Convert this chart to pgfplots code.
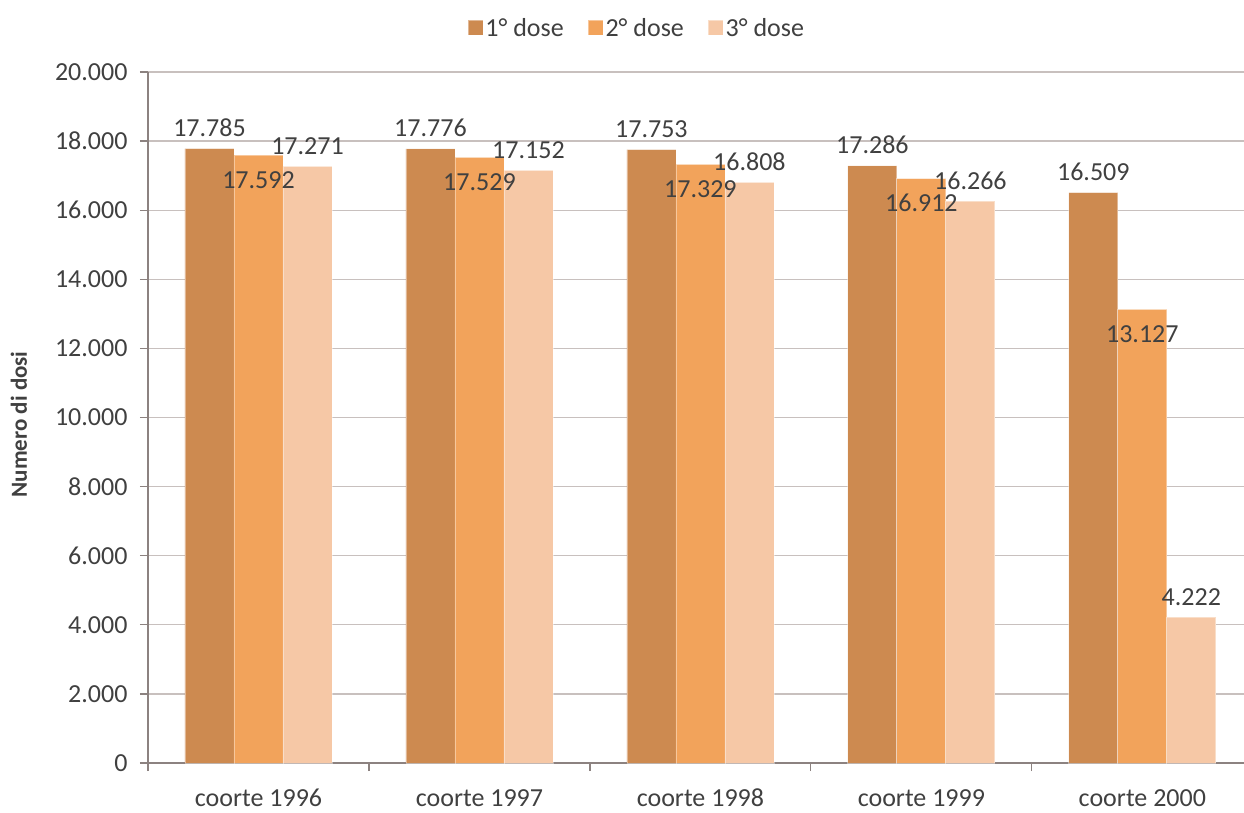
\documentclass[border=0pt]{standalone}
\usepackage{pgfplots}
\pgfplotsset{compat=1.18}
\usepackage{fontspec}
\setmainfont{Carlito}
\definecolor{cA}{RGB}{205,138,80}
\definecolor{cB}{RGB}{242,163,91}
\definecolor{cC}{RGB}{246,200,166}
\definecolor{txt}{RGB}{64,64,64}
\definecolor{axc}{RGB}{140,130,128}
\definecolor{grd}{RGB}{200,192,190}
\begin{document}
\begin{tikzpicture}[font=\fontsize{26}{31}\selectfont]
\begin{axis}[
  at={(148pt,49pt)}, anchor=south west,
  width=1096pt, height=691pt, scale only axis,
  xmin=-0.5, xmax=4.46, ymin=0, ymax=20000,
  ybar=0pt, bar width=49pt,
  axis x line*=bottom, axis y line*=left,
  axis line style={axc, line width=1.5pt, -},
  /pgf/number format/assume math mode=true,
  ytick={0,2000,...,20000},
  scaled y ticks=false,
  yticklabel={\pgfmathprintnumber[fixed,precision=0,1000 sep={.}]{\tick}},
  ymajorgrids, grid style={grd, line width=1.2pt},
  tick align=outside, major tick length=8pt, minor tick length=8pt,
  tick style={axc, line width=1.2pt},
  xtick={0,1,2,3,4},
  xticklabels={coorte 1996,coorte 1997,coorte 1998,coorte 1999,coorte 2000},
  every major x tick/.style={draw=none},
  minor xtick={-0.5,0.5,1.5,2.5,3.5},
  every minor x tick/.style={axc, line width=1.2pt},
  xticklabel style={text=txt, anchor=base, yshift=-35pt},
  yticklabel style={text=txt, xshift=-9pt},
  ylabel={\bfseries Numero di dosi},
  ylabel style={at={(axis description cs:-0.1177,0.49)}, anchor=center, font=\fontsize{23}{27}\selectfont, text=txt},
  legend style={at={(axis description cs:0.446,1.0637)}, anchor=center, draw=none, fill=none,
    text=txt, legend columns=-1,
    /tikz/every even column/.append style={column sep=22pt}},
  legend image code/.code={\fill[#1] (-3pt,-7.5pt) rectangle (12pt,7.5pt);},
  nodes near coords={\pgfmathprintnumber[fixed,precision=0,1000 sep={.}]{\pgfplotspointmeta}},
  every node near coord/.append style={text=txt, anchor=base},
]
\addplot[fill=cA, draw=white, draw opacity=0.4, line width=0.8pt,
  every node near coord/.append style={yshift=12pt}]
  coordinates {(0,17785) (1,17776) (2,17753) (3,17286) (4,16509)};
\addplot[fill=cB, draw=white, draw opacity=0.4, line width=0.8pt,
  every node near coord/.append style={yshift=-33pt}]
  coordinates {(0,17592) (1,17529) (2,17329) (3,16912) (4,13127)};
\addplot[fill=cC, draw=white, draw opacity=0.4, line width=0.8pt,
  every node near coord/.append style={yshift=12pt}]
  coordinates {(0,17271) (1,17152) (2,16808) (3,16266) (4,4222)};
\legend{1° dose, 2° dose, 3° dose}
\end{axis}
\pgfresetboundingbox
\path[use as bounding box] (0,0) rectangle (1244pt,812pt);
\end{tikzpicture}
\end{document}
